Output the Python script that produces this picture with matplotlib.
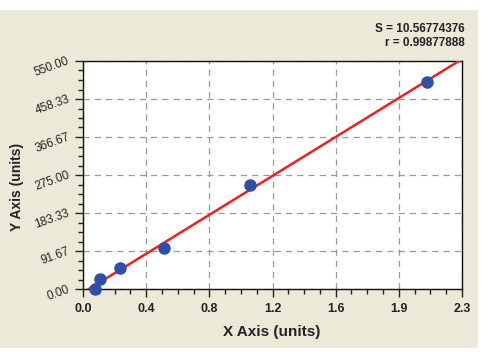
import numpy as np
import matplotlib
matplotlib.use("Agg")
import matplotlib.pyplot as plt
from matplotlib.patches import Rectangle
from matplotlib.ticker import AutoMinorLocator

# standard curve points
absorb = np.array([0.075, 0.103, 0.223, 0.489, 1.013, 2.090])
conc = np.array([0.0, 25.0, 50.0, 100.0, 250.0, 500.0])

xticks_lbl = ["0.0", "0.4", "0.8", "1.2", "1.6", "1.9", "2.3"]
yticks_lbl = ["0.00", "91.67", "183.33", "275.00", "366.67", "458.33", "550.00"]
stats_txt = "S = 10.56774376\nr = 0.99877888"

W, H = 501, 352
fig = plt.figure(figsize=(W/100, H/100), dpi=100, facecolor="white")
plt.rcParams["font.family"] = ["Liberation Sans", "DejaVu Sans"]

# beige panel behind everything
fig.patches.append(Rectangle((0, 1-348/H), 478/W, (348-10)/H, transform=fig.transFigure,
                             facecolor="#ECE9D8", edgecolor="none", zorder=-10))

ax = fig.add_axes([83/W, 1-289/H, (462-83)/W, (289-61)/H])
ax.set_facecolor("white")
ax.set_xlim(0, 2.3)
ax.set_ylim(0, 550)

# fitted line
b, a = np.polyfit(absorb, conc, 1)
xl = np.array([0.0, 2.3])
ax.plot(xl, a + b*xl, color="#F02020", lw=1.8, zorder=3)
ax.plot(absorb, conc, "o", color="#2F4FA8", ms=8, zorder=4, clip_on=False)

ax.set_xticks(np.linspace(0, 2.3, 7))
ax.set_xticklabels(xticks_lbl, fontsize=9, fontweight="bold", color="#222222")
ax.set_yticks(np.linspace(0, 550, 7))
ax.set_yticklabels(yticks_lbl, fontsize=8.5, color="#222222", rotation=20,
                   ha="right", va="center", rotation_mode="anchor")
ax.xaxis.set_minor_locator(AutoMinorLocator(4))
ax.yaxis.set_minor_locator(AutoMinorLocator(4))
ax.tick_params(which="major", length=6, width=1, color="#222222", pad=4)
ax.tick_params(which="minor", length=3.5, width=1, color="#222222")
ax.grid(True, which="major", ls=(0, (5, 4)), color="#999999", lw=0.9)
for s in ax.spines.values():
    s.set_color("#111111")
    s.set_linewidth(1)

fig.text(272/W, 1-332/H, "X Axis (units)", ha="center", va="center",
         fontsize=11, fontweight="bold", color="#222222")
fig.text(17/W, 1-187/H, "Y Axis (units)", ha="center", va="center", rotation=90,
         fontsize=10, fontweight="bold", color="#222222")
fig.text(465/W, 1-36/H, stats_txt, ha="right", va="center", fontsize=8.5,
         fontweight="bold", color="#222222", linespacing=1.2)

fig.savefig("out.png", dpi=100, facecolor="white")
